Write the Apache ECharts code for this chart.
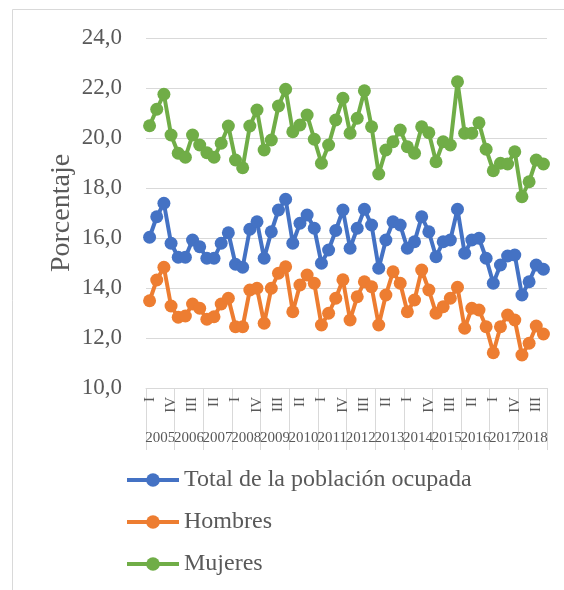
<!DOCTYPE html>
<html>
<head>
<meta charset="utf-8">
<script src="https://cdn.jsdelivr.net/npm/echarts@6/dist/echarts.min.js"></script>
<style>
  html, body { margin: 0; padding: 0; background: #ffffff; }
  #chart { width: 564px; height: 590px; }
</style>
</head>
<body>
<div id="chart"></div>
<script>
// Quarterly occupation rates, 2005 I – 2018 IV
const years = ['2005','2006','2007','2008','2009','2010','2011','2012','2013','2014','2015','2016','2017','2018'];
const quarterNames = ['I','II','III','IV'];

const total = [
  16.03, 16.85, 17.39, 15.79, 15.23, 15.23, 15.92, 15.65, 15.19, 15.19,
  15.79, 16.21, 14.95, 14.83, 16.35, 16.65, 15.19, 16.25, 17.12, 17.55,
  15.79, 16.59, 16.92, 16.39, 14.99, 15.52, 16.30, 17.12, 15.59, 16.39,
  17.15, 16.52, 14.79, 15.92, 16.65, 16.52, 15.59, 15.85, 16.85, 16.25,
  15.25, 15.85, 15.92, 17.15, 15.39, 15.92, 15.99, 15.19, 14.19, 14.92,
  15.28, 15.32, 13.72, 14.25, 14.92, 14.75
];
const hombres = [
  13.49, 14.32, 14.83, 13.28, 12.83, 12.88, 13.36, 13.19, 12.75, 12.85,
  13.36, 13.59, 12.45, 12.45, 13.92, 13.99, 12.59, 13.99, 14.59, 14.85,
  13.05, 14.12, 14.52, 14.19, 12.52, 12.99, 13.59, 14.33, 12.72, 13.65,
  14.25, 14.05, 12.52, 13.72, 14.65, 14.19, 13.05, 13.52, 14.72, 13.92,
  12.99, 13.25, 13.59, 14.03, 12.39, 13.19, 13.12, 12.45, 11.41, 12.45,
  12.92, 12.72, 11.32, 11.79, 12.48, 12.16
];
const mujeres = [
  20.49, 21.15, 21.75, 20.12, 19.39, 19.23, 20.12, 19.72, 19.41, 19.23,
  19.79, 20.48, 19.12, 18.81, 20.48, 21.12, 19.52, 19.92, 21.28, 21.95,
  20.25, 20.52, 20.92, 19.95, 18.99, 19.72, 20.72, 21.59, 20.19, 20.79,
  21.89, 20.45, 18.56, 19.52, 19.85, 20.32, 19.65, 19.39, 20.45, 20.21,
  19.05, 19.85, 19.72, 22.25, 20.19, 20.19, 20.61, 19.55, 18.69, 18.99,
  18.96, 19.45, 17.65, 18.25, 19.12, 18.96
];

const quarters = [];
years.forEach(function (y) { quarterNames.forEach(function (q) { quarters.push(q); }); });

const serif = '"Liberation Serif", "DejaVu Serif", serif';
const textColor = '#595959';
const gridColor = '#d9d9d9';

function lineSeries(name, data, color) {
  return {
    name: name,
    type: 'line',
    data: data,
    xAxisIndex: 0,
    symbol: 'circle',
    symbolSize: 13,
    showAllSymbol: true,
    lineStyle: { width: 4, color: color },
    itemStyle: { color: color },
    emphasis: { disabled: true },
    animation: false
  };
}

const chart = echarts.init(document.getElementById('chart'), null, { renderer: 'canvas' });
chart.setOption({
  backgroundColor: '#ffffff',
  animation: false,
  graphic: [{
    type: 'rect',
    shape: { x: 12.5, y: 9.5, width: 600, height: 640 },
    style: { fill: 'none', stroke: '#d9d9d9', lineWidth: 1 },
    silent: true
  }],
  grid: { left: 146, right: 17, top: 38, bottom: 202 },
  legend: {
    orient: 'vertical',
    left: 120,
    top: 463,
    itemWidth: 52,
    itemHeight: 17,
    itemGap: 18,
    lineStyle: { width: 4 },
    textStyle: { fontFamily: serif, fontSize: 24, color: textColor },
    data: ['Total de la población ocupada', 'Hombres', 'Mujeres']
  },
  xAxis: [{
    type: 'category',
    data: quarters,
    position: 'bottom',
    boundaryGap: true,
    axisLine: { show: true, lineStyle: { color: gridColor, width: 1 } },
    axisTick: { show: false },
    axisLabel: {
      interval: 2,
      rotate: 90,
      margin: 9,
      fontFamily: serif,
      fontSize: 15,
      color: textColor
    }
  }, {
    type: 'category',
    data: years,
    position: 'bottom',
    boundaryGap: true,
    axisLine: { show: false },
    axisTick: { show: true, length: 62, lineStyle: { color: gridColor, width: 1 } },
    axisLabel: {
      interval: 0,
      margin: 43,
      fontFamily: serif,
      fontSize: 15,
      color: textColor
    }
  }],
  yAxis: {
    type: 'value',
    min: 10,
    max: 24,
    interval: 2,
    name: 'Porcentaje',
    nameLocation: 'middle',
    nameGap: 70,
    nameMoveOverlap: false,
    nameTextStyle: { fontFamily: serif, fontSize: 28, color: textColor },
    axisLine: { show: false },
    axisTick: { show: false },
    splitLine: { lineStyle: { color: gridColor, width: 1 } },
    axisLabel: {
      margin: 24,
      fontFamily: serif,
      fontSize: 23,
      color: textColor,
      formatter: function (v) { return v.toFixed(1).replace('.', ','); }
    }
  },
  series: [
    lineSeries('Total de la población ocupada', total, '#4472C4'),
    lineSeries('Hombres', hombres, '#ED7D31'),
    lineSeries('Mujeres', mujeres, '#70AD47')
  ]
});
</script>
</body>
</html>
